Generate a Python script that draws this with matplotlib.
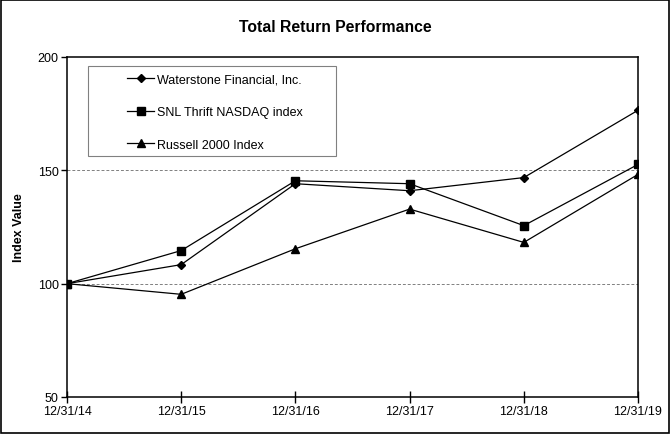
import matplotlib.pyplot as plt
from matplotlib.patches import Rectangle

plt.rcParams['font.family'] = ['Liberation Sans', 'DejaVu Sans']

dates = ["12/31/14", "12/31/15", "12/31/16", "12/31/17", "12/31/18", "12/31/19"]
waterstone = [100, 108.4, 144.1, 141.0, 146.8, 176.5]
snl_thrift = [100, 114.6, 145.4, 144.1, 125.6, 152.6]
russell = [100, 95.3, 115.4, 132.9, 118.2, 148.2]

fig = plt.figure(figsize=(6.7, 4.35), dpi=100)
fig.patches.append(Rectangle((0.0015, 0.002), 0.997, 0.996, transform=fig.transFigure,
                             fill=False, edgecolor="black", linewidth=1.2))
ax = fig.add_axes([67 / 670, 1 - 398 / 435, (638 - 67) / 670, (398 - 58) / 435])

x = range(len(dates))
ax.plot(x, waterstone, color="black", lw=0.9, marker="D", ms=4.3, label="Waterstone Financial, Inc.")
ax.plot(x, snl_thrift, color="black", lw=0.9, marker="s", ms=5.5, label="SNL Thrift NASDAQ index")
ax.plot(x, russell, color="black", lw=0.9, marker="^", ms=6, label="Russell 2000 Index")

ax.set_xlim(0, 5)
ax.set_ylim(50, 200)
ax.set_yticks([50, 100, 150, 200])
ax.set_xticks(list(x))
ax.set_xticklabels(dates)
for y in [100, 150]:
    ax.axhline(y, color="#808080", lw=0.7, ls=(0, (3, 2)), zorder=0)

ax.tick_params(axis="y", direction="out", length=4, width=1, labelsize=9, pad=2)
ax.tick_params(axis="x", direction="inout", length=8, width=1, labelsize=9, pad=2)
for s in ax.spines.values():
    s.set_linewidth(1.1)

ax.set_ylabel("Index Value", fontsize=9, fontweight="bold", labelpad=9)
fig.suptitle("Total Return Performance", fontsize=11.3, fontweight="bold", y=0.955)

# legend box drawn separately so the entries can sit right of its left edge
ax.add_patch(Rectangle((0.037, 0.709), 0.434, 0.265, transform=ax.transAxes,
                       fill=False, edgecolor="#808080", linewidth=0.8, zorder=3))
leg = ax.legend(loc="upper left", bbox_to_anchor=(0.105, 0.952), fontsize=9, frameon=False,
                labelspacing=1.65, handlelength=2.2, borderpad=0, borderaxespad=0,
                handletextpad=0.2)

fig.savefig("out.png", dpi=100)
